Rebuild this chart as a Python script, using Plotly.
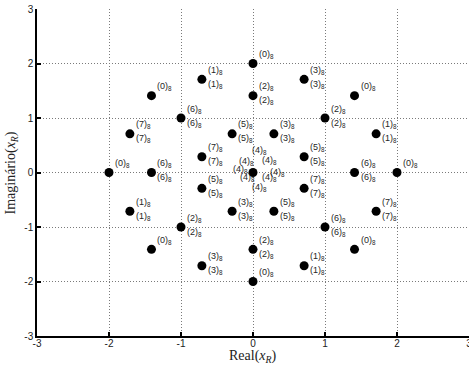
import plotly.graph_objects as go

# Constellation points of the received sum x_R (real and imaginary parts)
x_real = [0.0, 1.41, 2.0, 1.41, 0.0, -1.41, -2.0, -1.41,
          -0.71, 0.71, 0.0, -1.0, 1.0, -1.71, 1.71, -1.41, 1.41,
          -1.71, 1.71, -1.0, 1.0, -0.71, 0.71, 0.0,
          -0.29, 0.29, -0.71, 0.71, -0.71, 0.71, -0.29, 0.29]
x_imag = [2.0, 1.41, 0.0, -1.41, -2.0, -1.41, 0.0, 1.41,
          1.71, 1.71, 1.41, 1.0, 1.0, 0.71, 0.71, 0.0, 0.0,
          -0.71, -0.71, -1.0, -1.0, -1.71, -1.71, -1.41,
          0.71, 0.71, 0.29, 0.29, -0.29, -0.29, -0.71, -0.71]
# octal label drawn above-right of each point, and below-right (None = no second label)
label_upper = ["0", "0", "0", "0", "0", "0", "0", "0",
               "1", "3", "2", "6", "2", "7", "1", "6", "6",
               "1", "7", "2", "6", "3", "1", "2",
               "5", "3", "7", "5", "5", "7", "3", "5"]
label_lower = [None] * 8 + ["1", "3", "2", "6", "2", "7", "1", "6", "6",
                            "1", "7", "2", "6", "3", "1", "2",
                            "5", "3", "7", "5", "5", "7", "3", "5"]

# the origin collects eight coincident symbols, each with its own label
origin_labels = ["4"] * 8
origin_shifts = [(-3, 22), (-16, 11), (7, 12), (-22, 3),
                 (15, 0), (-15, -5), (7, -5), (-3, -15)]

ticks = [-3, -2, -1, 0, 1, 2, 3]

label_font = dict(family="Liberation Sans, Arial, sans-serif", size=9, color="#262626")


def octal(d):
    return "(" + d + ")<sub>8</sub>"


fig = go.Figure()
fig.add_trace(go.Scatter(
    x=x_real + [0.0], y=x_imag + [0.0], mode="markers",
    marker=dict(color="black", size=9, line=dict(width=0)),
    hoverinfo="skip", showlegend=False,
))

annotations = []
for xv, yv, up, lo in zip(x_real, x_imag, label_upper, label_lower):
    annotations.append(dict(x=xv, y=yv, text=octal(up), showarrow=False,
                            xanchor="left", yanchor="middle",
                            xshift=4, yshift=9, font=label_font))
    if lo is not None:
        annotations.append(dict(x=xv, y=yv, text=octal(lo), showarrow=False,
                                xanchor="left", yanchor="middle",
                                xshift=4, yshift=-5, font=label_font))
for lab, (dx, dy) in zip(origin_labels, origin_shifts):
    annotations.append(dict(x=0.0, y=0.0, text=octal(lab), showarrow=False,
                            xanchor="left", yanchor="middle",
                            xshift=dx, yshift=dy, font=label_font))

serif = dict(family="Liberation Serif, Times New Roman, serif", size=14, color="#222")
annotations.append(dict(xref="paper", yref="paper", x=0.5, y=-0.063,
                        text="Real(<i>x</i><sub><i>R</i></sub>)", showarrow=False,
                        xanchor="center", yanchor="middle", font=serif))
annotations.append(dict(xref="paper", yref="paper", x=-0.058, y=0.5,
                        text="Imaginário(<i>x</i><sub><i>R</i></sub>)", showarrow=False,
                        textangle=-90, xanchor="center", yanchor="middle", font=serif))

axis_common = dict(
    range=[-3, 3], tickvals=ticks, ticktext=[str(t) for t in ticks],
    showgrid=True, gridcolor="#7a7a7a", griddash="1px,2px", gridwidth=1,
    zeroline=False, showline=True, linecolor="black", linewidth=1.5,
    ticks="inside", ticklen=4, tickwidth=1.5, tickcolor="black",
    tickfont=dict(family="Liberation Sans, Arial, sans-serif", size=10, color="#222"),
    mirror=False, automargin=False,
)

fig.update_layout(
    width=469, height=366,
    margin=dict(l=37, r=0, t=9, b=30, autoexpand=False),
    paper_bgcolor="white", plot_bgcolor="white",
    xaxis=dict(**axis_common, ticklabelstandoff=-3, ticklabeloverflow="allow"),
    yaxis=dict(**axis_common),
    annotations=annotations,
)

fig.write_html("out.html")
